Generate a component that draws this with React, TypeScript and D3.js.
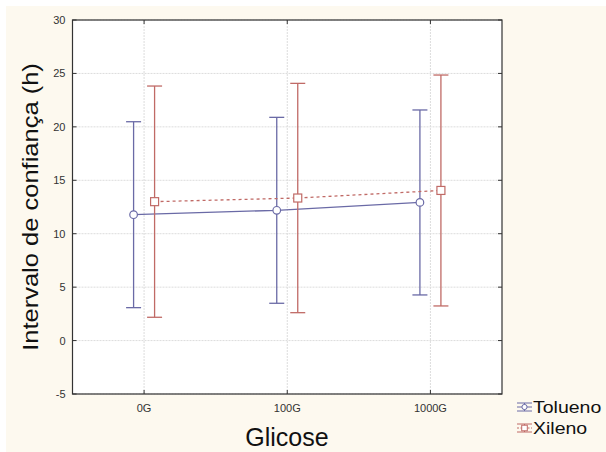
import React from "react";
import * as d3 from "d3";

const categories = ["0G", "100G", "1000G"];
const yTicks = [-5, 0, 5, 10, 15, 20, 25, 30];
const toluenoMean = [11.78, 12.19, 12.93];
const toluenoLow = [3.08, 3.49, 4.27];
const toluenoHigh = [20.48, 20.89, 21.58];
const xilenoMean = [13.0, 13.34, 14.05];
const xilenoLow = [2.18, 2.61, 3.24];
const xilenoHigh = [23.82, 24.07, 24.85];

const W = 606, H = 452;
const L = 72.5, R = 502, T = 20, B = 394;
const BLUE = "#6a6aa6";
const RED = "#c06a66";
const FONT = "Arial, 'Liberation Sans', sans-serif";

export default function App() {
  const x = d3.scaleBand<string>().domain(categories).range([L, R]).padding(0);
  const y = d3.scaleLinear().domain([-5, 30]).range([B, T]);
  const cx = (c: string) => (x(c) as number) + x.bandwidth() / 2;
  const off = 10.5;
  const series = [
    { name: "Tolueno", color: BLUE, mean: toluenoMean, lo: toluenoLow, hi: toluenoHigh, dx: -off, dash: undefined as string | undefined, marker: "circle" },
    { name: "Xileno", color: RED, mean: xilenoMean, lo: xilenoLow, hi: xilenoHigh, dx: off, dash: "3,3", marker: "square" },
  ];
  const line = d3.line<[number, number]>().x(d => d[0]).y(d => d[1]);
  const cap = 7.5;
  return (
    <svg width={W} height={H} style={{ position: "absolute", left: 0, top: 0, display: "block" }}>
      <rect x={0} y={0} width={W} height={H} fill="#ffffff" />
      <rect x={6} y={6} width={W - 6} height={H - 6} fill="#fdf9ef" />
      <rect x={L} y={T} width={R - L} height={B - T} fill="#ffffff" />
      {yTicks.map(v => (
        <line key={"gy" + v} x1={L} x2={R} y1={y(v)} y2={y(v)} stroke="#dcdcdc" strokeWidth={1} strokeDasharray="2,1" />
      ))}
      {categories.map(c => (
        <line key={"gx" + c} x1={cx(c)} x2={cx(c)} y1={T} y2={B} stroke="#dcdcdc" strokeWidth={1} strokeDasharray="2,1" />
      ))}
      {series.map(s => (
        <g key={s.name}>
          {categories.map((c, i) => {
            const px = cx(c) + s.dx;
            return (
              <g key={c}>
                <line x1={px} x2={px} y1={y(s.hi[i])} y2={y(s.lo[i])} stroke={s.color} strokeWidth={1.3} />
                <line x1={px - cap} x2={px + cap} y1={y(s.hi[i])} y2={y(s.hi[i])} stroke={s.color} strokeWidth={1.3} />
                <line x1={px - cap} x2={px + cap} y1={y(s.lo[i])} y2={y(s.lo[i])} stroke={s.color} strokeWidth={1.3} />
              </g>
            );
          })}
          <path d={line(categories.map((c, i) => [cx(c) + s.dx, y(s.mean[i])] as [number, number])) || ""} fill="none" stroke={s.color} strokeWidth={1.3} strokeDasharray={s.dash} />
          {categories.map((c, i) => {
            const px = cx(c) + s.dx;
            const py = y(s.mean[i]);
            return s.marker === "circle" ? (
              <circle key={"m" + c} cx={px} cy={py} r={3.8} fill="#fff" stroke={s.color} strokeWidth={1.2} />
            ) : (
              <rect key={"m" + c} x={px - 4} y={py - 4} width={8} height={8} fill="#fff" stroke={s.color} strokeWidth={1.2} />
            );
          })}
        </g>
      ))}
      <rect x={L} y={T} width={R - L} height={B - T} fill="none" stroke="#333" strokeWidth={1.2} />
      {yTicks.map(v => (
        <g key={"ty" + v}>
          <line x1={L} x2={L + 4} y1={y(v)} y2={y(v)} stroke="#333" />
          <line x1={R - 4} x2={R} y1={y(v)} y2={y(v)} stroke="#333" />
          <text x={L - 7} y={y(v) + 4} textAnchor="end" fontSize={11} fontFamily={FONT} fill="#333">{v}</text>
        </g>
      ))}
      {categories.map(c => (
        <g key={"tx" + c}>
          <line x1={cx(c)} x2={cx(c)} y1={B} y2={B - 4} stroke="#333" />
          <line x1={cx(c)} x2={cx(c)} y1={T} y2={T + 4} stroke="#333" />
          <text x={cx(c)} y={B + 18} textAnchor="middle" fontSize={11} fontFamily={FONT} fill="#333">{c}</text>
        </g>
      ))}
      <text x={287} y={446} textAnchor="middle" fontSize={25} fontFamily={FONT} fill="#111">Glicose</text>
      <text transform={`translate(38,207) rotate(-90) scale(1,0.85)`} textAnchor="middle" fontSize={25.5} fontFamily={FONT} fill="#111">Intervalo de confiança (h)</text>
      {series.map((s, i) => {
        const ly = 407 + i * 21;
        const lx0 = 517, lx1 = 532, mx = 524.5;
        return (
          <g key={"lg" + s.name}>
            <line x1={lx0} x2={lx1} y1={ly - 4} y2={ly - 4} stroke={s.color} strokeWidth={1} />
            <line x1={lx0} x2={lx1} y1={ly + 4} y2={ly + 4} stroke={s.color} strokeWidth={1} />
            <line x1={mx} x2={mx} y1={ly - 4} y2={ly + 4} stroke={s.color} strokeWidth={1} />
            <line x1={lx0} x2={lx1} y1={ly} y2={ly} stroke={s.color} strokeWidth={1} strokeDasharray={s.dash ? "2,1.5" : undefined} />
            {s.marker === "circle" ? (
              <circle cx={mx} cy={ly} r={2.6} fill="#fff" stroke={s.color} strokeWidth={1} />
            ) : (
              <rect x={mx - 2.8} y={ly - 2.8} width={5.6} height={5.6} fill="#fff" stroke={s.color} strokeWidth={1} />
            )}
            <text transform={`translate(533,${ly + 6}) scale(1.22,1)`} fontSize={16} fontFamily={FONT} fill="#111">{s.name}</text>
          </g>
        );
      })}
    </svg>
  );
}
